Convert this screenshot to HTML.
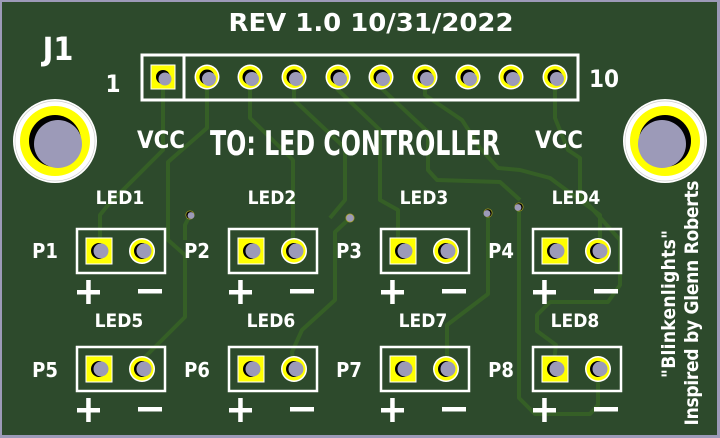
<!DOCTYPE html>
<html><head><meta charset="utf-8"><style>
html,body{margin:0;padding:0;background:#9c9ab8;}
svg{display:block}
text{font-family:"DejaVu Sans Condensed","DejaVu Sans","Liberation Sans",sans-serif;font-stretch:condensed;fill:#fff;font-weight:bold}
</style></head><body>
<svg width="720" height="438" viewBox="0 0 720 438" xmlns="http://www.w3.org/2000/svg">
<rect x="0" y="0" width="720" height="438" fill="#9c9ab8"/>
<rect x="2" y="2" width="715" height="433" fill="#2d4a2c"/>
<g fill="none" stroke="#355f26" stroke-width="4" stroke-linejoin="round">
<polyline points="163,77 163,150 108,205 100,215 100,250"/>
<polyline points="207,77 207,128 168,162 168,240 185,255 185,317 145,357 142,369"/>
<polyline points="250,77 250,118 293,160 293,250 294,251"/>
<polyline points="294,77 294,100 345,148 345,200 330,218"/>
<polyline points="338,77 338,90 380,130 380,200 398,210 398,250"/>
<polyline points="381,77 381,88 428,132 428,170 437,180 500,182 520,200"/>
<polyline points="425,77 425,95 462,120 480,148 498,168 520,170 550,178 600,215 600,250"/>
<polyline points="350,218 335,232 335,300 302,330 292,352 294,369"/>
<polyline points="488,213 488,294 447,325 447,369"/>
<polyline points="519,207 519,398 535,414 590,414 598,405 598,369"/>
<polyline points="555,77 555,118 568,150 580,158 580,195 620,240 620,285 608,302 550,302 537,315 537,331 556,345 553,369"/>
<polyline points="190,215 185,225 185,240"/>
</g>
<g fill="none" stroke="#fff" stroke-width="3">
<rect x="142" y="55" width="436" height="45"/>
<line x1="184" y1="55" x2="184" y2="100"/>
</g>
<rect x="151" y="65" width="24" height="24" fill="#ffff00" stroke="#fff" stroke-width="1"/>
<circle cx="163" cy="77" r="7" fill="#000"/><circle cx="165" cy="79" r="6.5" fill="#9c9ab8"/>
<g>
<g transform="translate(207,77)"><circle r="12.5" fill="#fff"/><circle r="11" fill="#ffff00"/><circle r="7.5" fill="#000"/><circle cx="2" cy="2" r="7" fill="#9c9ab8"/></g>
<g transform="translate(250,77)"><circle r="12.5" fill="#fff"/><circle r="11" fill="#ffff00"/><circle r="7.5" fill="#000"/><circle cx="2" cy="2" r="7" fill="#9c9ab8"/></g>
<g transform="translate(294,77)"><circle r="12.5" fill="#fff"/><circle r="11" fill="#ffff00"/><circle r="7.5" fill="#000"/><circle cx="2" cy="2" r="7" fill="#9c9ab8"/></g>
<g transform="translate(338,77)"><circle r="12.5" fill="#fff"/><circle r="11" fill="#ffff00"/><circle r="7.5" fill="#000"/><circle cx="2" cy="2" r="7" fill="#9c9ab8"/></g>
<g transform="translate(381,77)"><circle r="12.5" fill="#fff"/><circle r="11" fill="#ffff00"/><circle r="7.5" fill="#000"/><circle cx="2" cy="2" r="7" fill="#9c9ab8"/></g>
<g transform="translate(425,77)"><circle r="12.5" fill="#fff"/><circle r="11" fill="#ffff00"/><circle r="7.5" fill="#000"/><circle cx="2" cy="2" r="7" fill="#9c9ab8"/></g>
<g transform="translate(468,77)"><circle r="12.5" fill="#fff"/><circle r="11" fill="#ffff00"/><circle r="7.5" fill="#000"/><circle cx="2" cy="2" r="7" fill="#9c9ab8"/></g>
<g transform="translate(511,77)"><circle r="12.5" fill="#fff"/><circle r="11" fill="#ffff00"/><circle r="7.5" fill="#000"/><circle cx="2" cy="2" r="7" fill="#9c9ab8"/></g>
<g transform="translate(555,77)"><circle r="12.5" fill="#fff"/><circle r="11" fill="#ffff00"/><circle r="7.5" fill="#000"/><circle cx="2" cy="2" r="7" fill="#9c9ab8"/></g>
</g>
<g transform="translate(55,141)"><circle r="42" fill="#fff"/><circle r="40" fill="none" stroke="#ccc" stroke-width="0.7"/><circle r="35" fill="#ffff00"/><circle r="26" fill="#000"/><circle cx="3" cy="3" r="24" fill="#9c9ab8"/></g>
<g transform="translate(665,141)"><circle r="42" fill="#fff"/><circle r="40" fill="none" stroke="#ccc" stroke-width="0.7"/><circle r="35" fill="#ffff00"/><circle r="26" fill="#000"/><circle cx="-3" cy="3" r="24" fill="#9c9ab8"/></g>
<g>
<g transform="translate(190,215)"><circle r="4.5" fill="#aaa020"/><circle r="3.8" fill="#000"/><circle cx="1" cy="0.5" r="3.4" fill="#9c9ab8"/></g>
<g transform="translate(350,218)"><circle r="4.5" fill="#aaa020"/><circle r="3.8" fill="#9c9ab8"/></g>
<g transform="translate(488,213)"><circle r="4.5" fill="#aaa020"/><circle r="3.8" fill="#000"/><circle cx="-1" cy="0.5" r="3.4" fill="#9c9ab8"/></g>
<g transform="translate(519,207)"><circle r="4.5" fill="#aaa020"/><circle r="3.8" fill="#000"/><circle cx="-1" cy="0.5" r="3.4" fill="#9c9ab8"/></g>
</g>
<defs>
<g id="mod">
<rect x="0" y="0" width="88" height="44" fill="none" stroke="#fff" stroke-width="2.5"/>
<rect x="9" y="9" width="26" height="26" fill="#ffff00" stroke="#fff" stroke-width="1"/>
<circle cx="22" cy="22" r="8" fill="#000"/><circle cx="24" cy="22" r="7.5" fill="#9c9ab8"/>
<circle cx="65" cy="22" r="13" fill="#fff"/><circle cx="65" cy="22" r="11.5" fill="#ffff00"/><circle cx="65" cy="22" r="8" fill="#000"/><circle cx="67" cy="22" r="7.5" fill="#9c9ab8"/>
<rect x="0" y="61" width="23" height="4.5" fill="#fff"/><rect x="9.2" y="51" width="4.5" height="24" fill="#fff"/>
<rect x="61" y="60" width="24" height="4.5" fill="#fff"/>
</g>
</defs>
<use href="#mod" x="77" y="229"/><use href="#mod" x="229" y="229"/><use href="#mod" x="381" y="229"/><use href="#mod" x="533" y="229"/>
<use href="#mod" x="77" y="347"/><use href="#mod" x="229" y="347"/><use href="#mod" x="381" y="347"/><use href="#mod" x="533" y="347"/>
<text x="371" y="31" font-size="25" text-anchor="middle" textLength="285" lengthAdjust="spacingAndGlyphs">REV 1.0 10/31/2022</text>
<text x="58" y="60" font-size="32" text-anchor="middle">J1</text>
<text x="113" y="92" font-size="24" text-anchor="middle">1</text>
<text x="604" y="87" font-size="24" text-anchor="middle" textLength="30">10</text>
<text x="161" y="148" font-size="24" text-anchor="middle" textLength="48" lengthAdjust="spacingAndGlyphs">VCC</text>
<text x="559" y="148" font-size="24" text-anchor="middle" textLength="48" lengthAdjust="spacingAndGlyphs">VCC</text>
<text x="210" y="155" font-size="34" textLength="290" lengthAdjust="spacingAndGlyphs">TO:  LED CONTROLLER</text>
<g font-size="19" text-anchor="middle">
<text x="120" y="204">LED1</text><text x="272" y="204">LED2</text><text x="424" y="204">LED3</text><text x="576" y="204">LED4</text>
<text x="119" y="327">LED5</text><text x="271" y="327">LED6</text><text x="423" y="327">LED7</text><text x="575" y="327">LED8</text>
</g>
<g font-size="20" text-anchor="middle">
<text x="45" y="258">P1</text><text x="197" y="258">P2</text><text x="349" y="258">P3</text><text x="501" y="258">P4</text>
<text x="45" y="377">P5</text><text x="197" y="377">P6</text><text x="349" y="377">P7</text><text x="501" y="377">P8</text>
</g>
<text transform="translate(675,304) rotate(-90)" font-size="19" text-anchor="middle" textLength="148">"Blinkenlights"</text>
<text transform="translate(698,303) rotate(-90)" font-size="19" text-anchor="middle" textLength="245">Inspired by Glenn Roberts</text>
</svg>
</body></html>
